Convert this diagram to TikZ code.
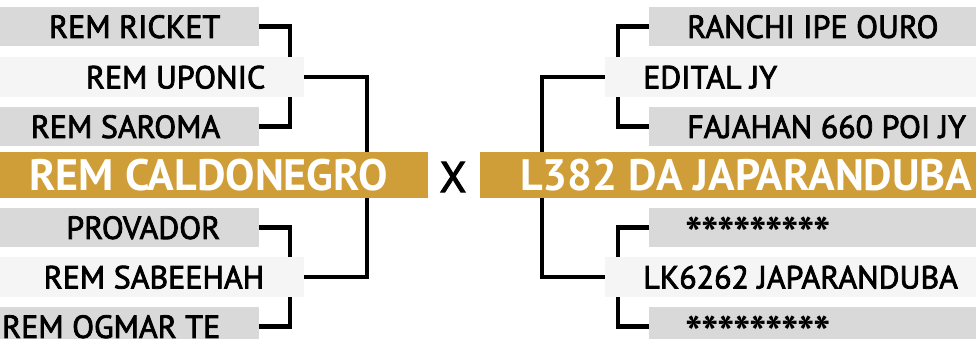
\documentclass[tikz,border=0pt]{standalone}
\usepackage{fontspec}
\setmainfont{PT Sans}
\newfontfamily\lblfont[FakeBold=2.5]{PT Sans}
\newfontfamily\starfont{PT Sans Bold}
\definecolor{gold}{HTML}{D09E38}
\definecolor{barA}{HTML}{D9D9D9}
\definecolor{barB}{HTML}{F5F5F5}
\newcommand{\onestar}{\makebox[16pt][c]{\raisebox{-12pt}{\starfont\fontsize{46}{46}\selectfont *}}}
\newcommand{\ninestars}{\onestar\onestar\onestar\onestar\onestar\onestar\onestar\onestar\onestar}
\tikzset{
  bar/.style={inner sep=0pt, anchor=north west, minimum height=#1},
  grayb/.style={bar=39pt, fill=barA},
  lightb/.style={bar=40pt, fill=barB},
  goldb/.style={bar=46pt, fill=gold},
  lbl/.style={inner sep=0pt, font=\lblfont\fontsize{32}{32}\selectfont, text height=22.5pt, text depth=0pt},
  glbl/.style={inner sep=0pt, font=\fontsize{44}{44}\selectfont\bfseries, text=white, text height=31pt, text depth=0pt},
  conn/.style={line width=4.5pt, black}
}
\begin{document}
\begin{tikzpicture}[x=1pt,y=-1pt]
\useasboundingbox (0,0) rectangle (976,339);
\clip (0,0) rectangle (976,339);
% left bars
\node[grayb, minimum width=259pt] (ricket) at (0,7) {};
\node[lightb, minimum width=304pt] (uponic) at (0,57) {};
\node[grayb, minimum width=259pt] (saroma) at (0,107) {};
\node[goldb, minimum width=428pt] (caldo) at (0,152) {};
\node[grayb, minimum width=259pt] (provador) at (0,208) {};
\node[lightb, minimum width=304pt] (sabeehah) at (0,257) {};
\node[grayb, minimum width=259pt] (ogmar) at (0,307) {};
% right bars
\node[grayb, minimum width=340pt] (ranchi) at (649,7) {};
\node[lightb, minimum width=380pt] (edital) at (605,57) {};
\node[grayb, minimum width=340pt] (fajahan) at (649,107) {};
\node[goldb, minimum width=500pt] (japa) at (480,152) {};
\node[grayb, minimum width=340pt] (star1) at (649,208) {};
\node[lightb, minimum width=380pt] (lk) at (605,257) {};
\node[grayb, minimum width=340pt] (star2) at (649,307) {};
% left labels
\node[lbl, anchor=east] (t1) at ([xshift=-39pt]ricket.east) {REM RICKET};
\node[lbl, anchor=east] (t2) at ([xshift=-39pt]uponic.east) {REM UPONIC};
\node[lbl, anchor=east] (t3) at ([xshift=-39pt]saroma.east) {REM SAROMA};
\node[glbl, anchor=east] (t4) at ([xshift=-40pt]caldo.east) {REM CALDONEGRO};
\node[lbl, anchor=east] (t5) at ([xshift=-39pt]provador.east) {PROVADOR};
\node[lbl, anchor=east] (t6) at ([xshift=-40pt]sabeehah.east) {REM SABEEHAH};
\node[lbl, anchor=east] (t7) at ([xshift=-39pt]ogmar.east) {REM OGMAR TE};
% right labels
\node[lbl, anchor=west] (r1) at ([xshift=38pt]ranchi.west) {RANCHI IPE OURO};
\node[lbl, anchor=west] (r2) at ([xshift=38pt]edital.west) {EDITAL JY};
\node[lbl, anchor=west] (r3) at ([xshift=38pt]fajahan.west) {FAJAHAN 660 POI JY};
\node[glbl, anchor=west] (r4) at ([xshift=40pt]japa.west) {L382 DA JAPARANDUBA};
\node[lbl, anchor=west] (r5) at ([xshift=37pt]star1.west) {\ninestars};
\node[lbl, anchor=west] (r6) at ([xshift=38pt]lk.west) {LK6262 JAPARANDUBA};
\node[lbl, anchor=west] (r7) at ([xshift=37pt]star2.west) {\ninestars};
% X
\node[inner sep=0pt, font=\lblfont\fontsize{43}{43}\selectfont, text height=30pt, text depth=0pt] (vs) at (453,177) {X};
% connector columns
\coordinate (la) at (290,0);
\coordinate (lb) at (367,0);
\coordinate (ra) at (618,0);
\coordinate (rb) at (542,0);
% left connectors
\draw[conn] (ricket.east) -| (la |- uponic.north);
\draw[conn] (saroma.east) -| (la |- uponic.south);
\draw[conn] (uponic.east) -| (lb |- caldo.north);
\draw[conn] (provador.east) -| (la |- sabeehah.north);
\draw[conn] (ogmar.east) -| (la |- sabeehah.south);
\draw[conn] (sabeehah.east) -| (lb |- caldo.south);
% right connectors
\draw[conn] (ranchi.west) -| (ra |- edital.north);
\draw[conn] (fajahan.west) -| (ra |- edital.south);
\draw[conn] (edital.west) -| (rb |- japa.north);
\draw[conn] (star1.west) -| (ra |- lk.north);
\draw[conn] (star2.west) -| (ra |- lk.south);
\draw[conn] (lk.west) -| (rb |- japa.south);
\end{tikzpicture}
\end{document}
